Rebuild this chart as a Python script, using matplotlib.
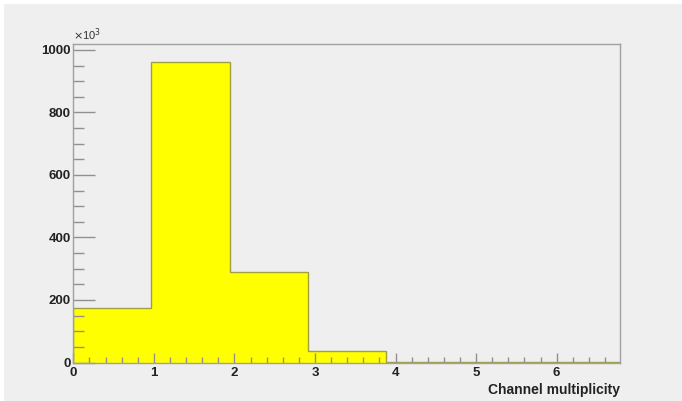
import numpy as np
import matplotlib
matplotlib.use("Agg")
import matplotlib.pyplot as plt
from matplotlib.ticker import MultipleLocator
from matplotlib.patches import Rectangle

# Data (counts in units of 10^3)
bin_edges = [0.0, 0.969, 1.939, 2.908, 3.877, 4.846, 5.816, 6.786]
counts_k = [173, 962, 290, 37, 2, 0.5, 0.2]
x_ticks = [0, 1, 2, 3, 4, 5, 6]
y_ticks = [0, 200, 400, 600, 800, 1000]
x_label = "Channel multiplicity"

plt.rcParams['font.family'] = ['Liberation Sans', 'DejaVu Sans']

W, H = 682, 401
fig = plt.figure(figsize=(W/100, H/100), dpi=100)
fig.patch.set_facecolor('white')
bg = '#efefef'
fig.patches.append(Rectangle((4/W, -0.01), 1.02, 1.01 - 4/H, transform=fig.transFigure,
                             facecolor=bg, edgecolor='none', zorder=-10))

left, right, top, bottom = 73.3, 620, 44.3, 362.5
ax = fig.add_axes([left/W, 1 - bottom/H, (right-left)/W, (bottom-top)/H])
ax.set_facecolor(bg)

ax.stairs(counts_k, bin_edges, fill=True, facecolor='#ffff00', edgecolor='#a0a040',
          linewidth=1.0, baseline=0)

ax.set_xlim(0, bin_edges[-1])
ax.set_ylim(0, 1018)
ax.set_xticks(x_ticks)
ax.set_yticks(y_ticks)
ax.xaxis.set_minor_locator(MultipleLocator(0.2))
ax.yaxis.set_minor_locator(MultipleLocator(50))

for s in ax.spines.values():
    s.set_color('#a0a0a0')
    s.set_linewidth(1.0)

ax.tick_params(axis='x', which='major', direction='in', length=7, width=1,
               color='#909090', labelsize=9.5, labelcolor='#222222', top=False, pad=3)
ax.tick_params(axis='x', which='minor', direction='in', length=4, width=1,
               color='#909090', top=False)
ax.tick_params(axis='y', which='major', direction='in', length=16, width=1,
               color='#909090', labelsize=9.5, labelcolor='#222222', right=False, pad=2)
ax.tick_params(axis='y', which='minor', direction='in', length=8, width=1,
               color='#909090', right=False)
for lbl in ax.get_xticklabels() + ax.get_yticklabels():
    lbl.set_fontweight('bold')

ax.text(1.0, -0.065, x_label, transform=ax.transAxes, ha='right', va='top',
        fontsize=10, fontweight='bold', color='#222222')
ax.text(0.0, 1.005, r"$\times$10$^3$", transform=ax.transAxes, ha='left', va='bottom',
        fontsize=8, color='#333333')

fig.savefig("out.png", dpi=100, facecolor=fig.get_facecolor())
